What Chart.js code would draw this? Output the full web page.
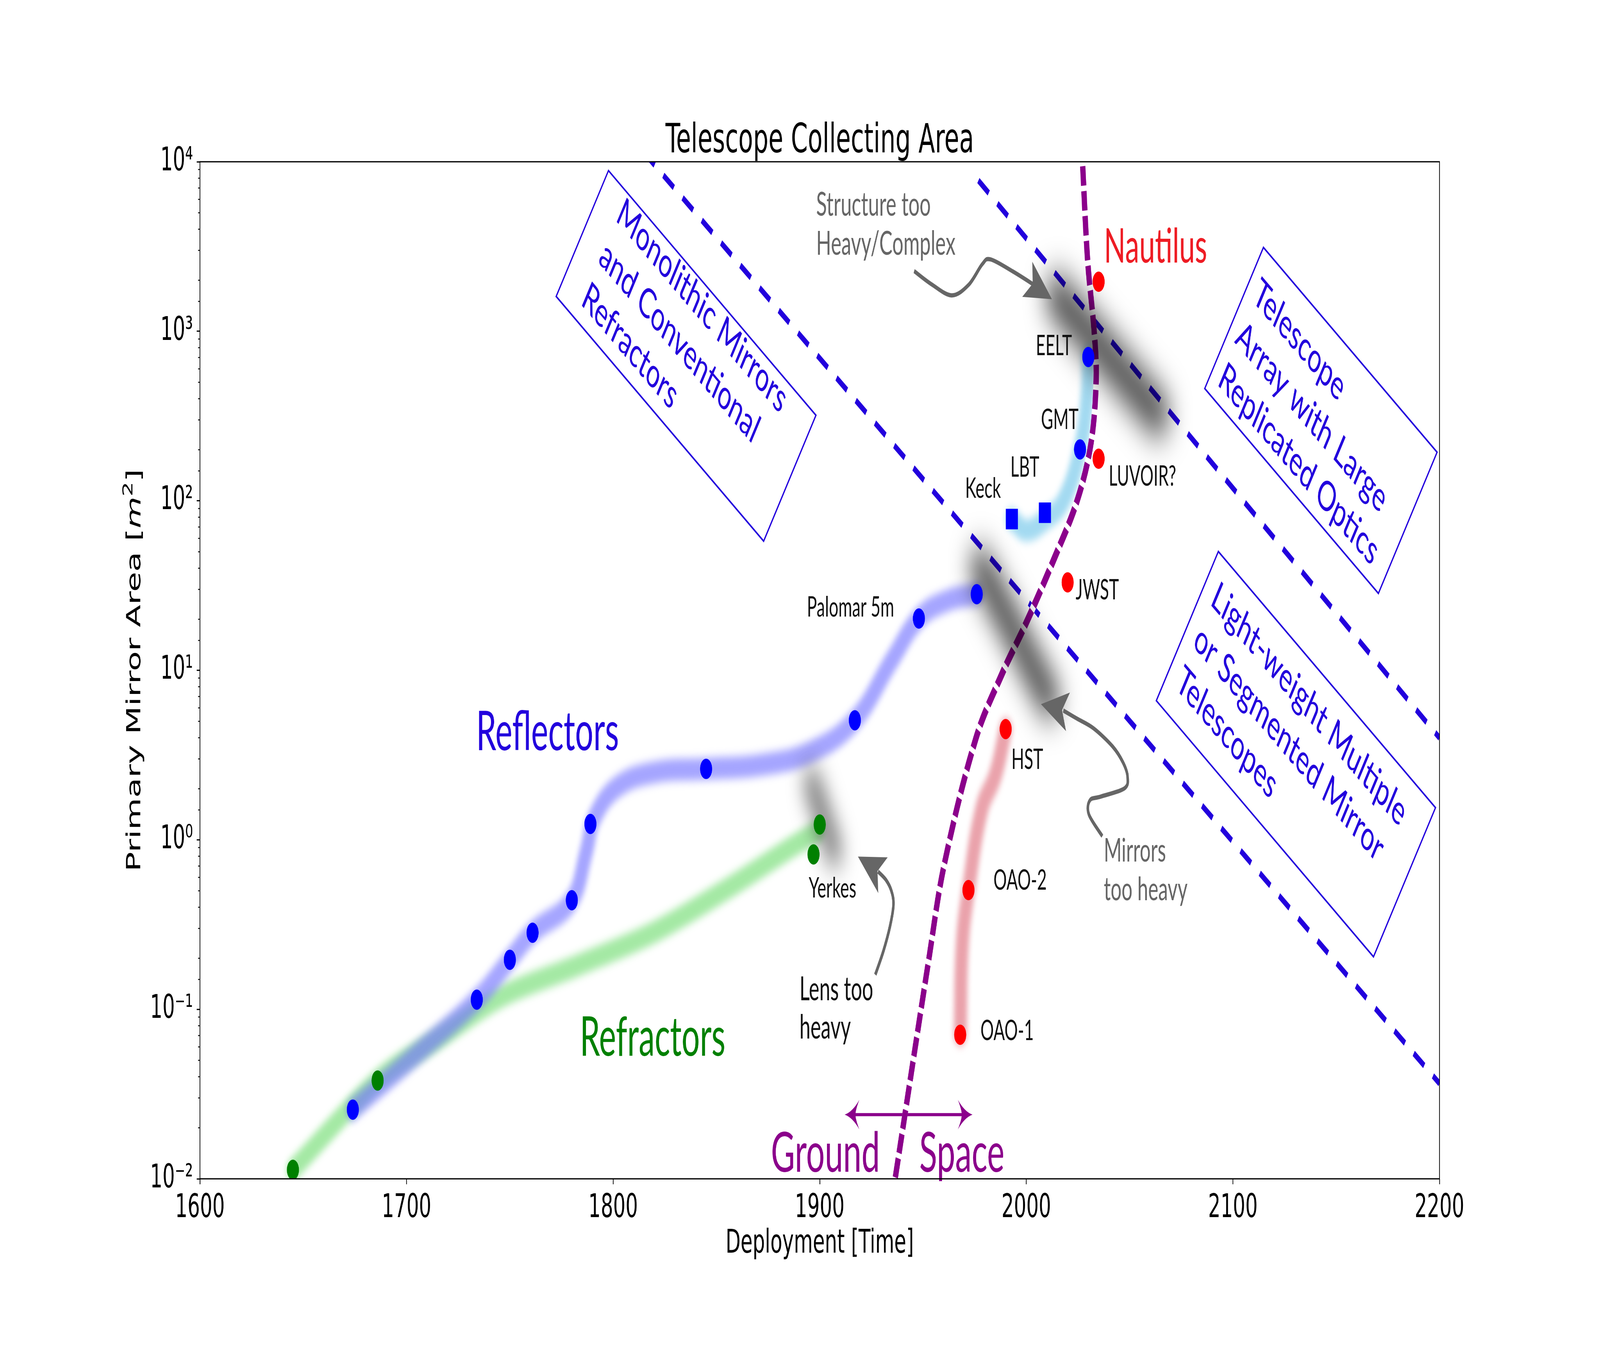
<!DOCTYPE html>
<html lang="en">
<head>
<meta charset="UTF-8">
<title>Telescope Collecting Area</title>
<script src="https://cdn.jsdelivr.net/npm/chart.js@4"></script>
<style>
  html, body { margin: 0; padding: 0; background: #fff; overflow: hidden; }
</style>
</head>
<body>
<canvas id="chart" width="6898" height="3450" style="width:100vw;height:100vh;display:block"></canvas>
<script>
// ---- data (year, primary mirror area in m^2) ----
const xTicks = [1600, 1700, 1800, 1900, 2000, 2100, 2200];

// reflectors (blue dots)
const reflYears = [1674, 1734, 1750, 1761, 1780, 1789, 1845, 1917, 1948, 1976];
const reflArea  = [0.0256, 0.114, 0.196, 0.283, 0.44, 1.24, 2.62, 5.07, 20.2, 28.1];
// refractors (green dots)
const refrYears = [1645, 1686, 1897, 1900];
const refrArea  = [0.0113, 0.038, 0.82, 1.23];
// segmented ground telescopes (squares): Keck, LBT
const segYears = [1993, 2009];
const segArea  = [78, 85];
// extremely large ground telescopes (blue dots): GMT, EELT
const eltYears = [2026, 2030];
const eltArea  = [201, 705];
// space telescopes (red): OAO-1, OAO-2, HST, JWST, LUVOIR?, Nautilus
const spaceYears = [1968, 1972, 1990, 2020, 2035, 2035];
const spaceArea  = [0.0708, 0.505, 4.5, 33, 177, 1960];

// trend bands (glows)
const reflGlowYears = [1674, 1705, 1734, 1750, 1761, 1780, 1787, 1791, 1802, 1820, 1845, 1872, 1895, 1917, 1935, 1948, 1962, 1976];
const reflGlowArea  = [0.0256, 0.0546, 0.114, 0.196, 0.283, 0.44, 0.85, 1.35, 2.05, 2.5, 2.62, 2.77, 3.27, 5.07, 11.5, 20.2, 25.8, 28.1];
const refrGlowYears = [1645, 1686, 1716, 1746, 1783, 1820, 1858, 1886, 1899];
const refrGlowArea  = [0.0113, 0.038, 0.068, 0.119, 0.182, 0.286, 0.54, 0.9, 1.12];
const segGlowYears = [1993, 2000, 2009, 2018, 2026, 2029.5, 2030];
const segGlowArea  = [78, 67, 77, 100, 201, 420, 705];
const spaceGlowYears = [1968, 1969, 1972, 1978.5, 1985, 1990];
const spaceGlowArea  = [0.0708, 0.24, 0.505, 1.53, 2.4, 4.5];

// ground / space boundary (purple dashed)
const boundYears = [1936.6, 1952.8, 1960.4, 1975.7, 1988.2, 2000, 2013.3, 2024.7, 2031.3, 2033.8, 2033.0, 2029.7, 2027.2];
const boundArea  = [0.0102, 0.197, 0.727, 4.0, 9.5, 19.1, 45, 101, 218, 513, 944, 2600, 9950];

// technology limits (blue dashed)
const monoLineYears = [1815, 2200];
const monoLineArea  = [11300, 0.0365];
const arrayLineYears = [1976.8, 2200];
const arrayLineArea  = [7750, 3.99];

// grey "limit reached" smudges
const lensLimitYears = [1896, 1907];
const lensLimitArea  = [2.2, 0.85];
const mirrorLimitYears = [1978, 2011];
const mirrorLimitArea  = [40, 6.8];
const structLimitYears = [2015.2, 2063.5];
const structLimitArea  = [1596, 325];

// point labels
const labelNames = ['Palomar 5m', 'Yerkes', 'OAO-1', 'OAO-2', 'HST', 'JWST', 'LUVOIR?', 'Keck', 'LBT', 'GMT', 'EELT'];
const labelYears = [1893.8, 1894.7, 1977.8, 1984.1, 1992.8, 2023.9, 2039.9, 1970.4, 1992.3, 2007.1, 2004.6];
const labelArea  = [20.7, 0.456, 0.0658, 0.509, 2.62, 26.2, 123, 104, 139, 265, 723];

// annotation arrows (shaft points, then tip)
const lensArrowYears = [1926.9, 1930.8, 1934.0, 1935.7, 1934.7, 1932.1, 1928.2, 1918.5];
const lensArrowArea  = [0.160, 0.220, 0.308, 0.414, 0.499, 0.579, 0.650, 0.796];
const mirrorArrowYears = [2036.8, 2030.3, 2030.8, 2036.1, 2047.5, 2049.0, 2046.8, 2041.8, 2032.6, 2024.6, 2017.9, 2007.1];
const mirrorArrowArea  = [1.05, 1.41, 1.71, 1.80, 2.01, 2.36, 2.86, 3.55, 4.54, 5.18, 5.79, 6.31];
const structArrowYears = [1945.7, 1954.2, 1963.9, 1972.1, 1978.7, 1982.7, 1993.5, 2004.0, 2012.4];
const structArrowArea  = [2265, 1890, 1629, 1880, 2490, 2655, 2253, 1870, 1545];
const groundSpaceYears = [1912.1, 1973.95];
const groundSpaceArea  = [0.0239, 0.0239];

// regime boxes
const boxLines = [
  ['Monolithic Mirrors', 'and Conventional', 'Refractors'],
  ['Telescope', 'Array with Large', 'Replicated Optics'],
  ['Light-weight Multiple', 'or Segmented Mirror', 'Telescopes']
];
const boxYears = [1835.3, 2142.6, 2130.5];
const boxArea  = [716, 298, 3.2];

// ---- styling ----
const AXIS_FONT = '"DejaVu Sans", sans-serif';
const ANN_FONT = 'Lato, "Open Sans", sans-serif';
const BLUE_INK = '#2200dd';
const PURPLE = '#8b008b';
const GREY = '#666666';
const boxSize  = [[1092, 393], [914, 441], [1143, 466]];
const boxInset = [[95, 87], [35, 140], [45, 131]];

function pts(xs, ys) { return xs.map((x, i) => ({ x: x, y: ys[i] })); }
function isPow10(v) { const l = Math.log10(v); return Math.abs(l - Math.round(l)) < 1e-6; }
function sup(n) {
  const m = { '-': '\u207B', '0': '\u2070', '1': '\u00B9', '2': '\u00B2', '3': '\u00B3', '4': '\u2074', '5': '\u2075', '6': '\u2076', '7': '\u2077', '8': '\u2078', '9': '\u2079' };
  return String(n).split('').map(c => m[c]).join('');
}

function band(xs, ys, color, tension) {
  return { data: pts(xs, ys), showLine: true, borderColor: color, borderWidth: 56, pointRadius: 0,
           tension: tension, borderCapStyle: 'round', borderJoinStyle: 'round', blur: 11, order: 10 };
}
function smudge(xs, ys, width, blur, alpha) {
  return { data: pts(xs, ys), showLine: true, borderColor: 'rgba(0,0,0,' + alpha + ')', borderWidth: width,
           pointRadius: 0, borderCapStyle: 'round', blur: blur, order: 6 };
}
function dashed(xs, ys) {
  return { data: pts(xs, ys), showLine: true, borderColor: BLUE_INK, borderWidth: 16, borderDash: [55, 46],
           pointRadius: 0, order: 9 };
}
function dots(xs, ys, color, style) {
  return { data: pts(xs, ys), showLine: false, pointStyle: style, pointRadius: style === 'rect' ? 37 : 26,
           backgroundColor: color, borderColor: color, pointBorderWidth: 0, order: 1 };
}

const datasets = [
  band(reflGlowYears, reflGlowArea, 'rgba(110,110,255,0.62)', 0.4),
  band(refrGlowYears, refrGlowArea, 'rgba(90,215,90,0.55)', 0.3),
  band(segGlowYears, segGlowArea, 'rgba(120,200,235,0.68)', 0.4),
  band(spaceGlowYears, spaceGlowArea, 'rgba(220,100,115,0.6)', 0.4),
  dashed(monoLineYears, monoLineArea),
  dashed(arrayLineYears, arrayLineArea),
  { data: pts(boundYears, boundArea), showLine: true, borderColor: '#ffffff', borderWidth: 23, pointRadius: 0, tension: 0.35, order: 8 },
  { data: pts(boundYears, boundArea), showLine: true, borderColor: PURPLE, borderWidth: 23, borderDash: [50, 14], pointRadius: 0, tension: 0.35, order: 7 },
  smudge(lensLimitYears, lensLimitArea, 72, 38, 0.55),
  smudge(mirrorLimitYears, mirrorLimitArea, 100, 44, 0.7),
  smudge(structLimitYears, structLimitArea, 110, 46, 0.72),
  dots(reflYears, reflArea, '#0000ff', 'circle'),
  dots(refrYears, refrArea, '#008000', 'circle'),
  dots(segYears, segArea, '#0000ff', 'rect'),
  dots(eltYears, eltArea, '#0000ff', 'circle'),
  dots(spaceYears, spaceArea, '#ff0000', 'circle')
];

function smoothPath(ctx, p) {
  ctx.moveTo(p[0][0], p[0][1]);
  for (let i = 0; i < p.length - 1; i++) {
    const p0 = p[Math.max(i - 1, 0)], p1 = p[i], p2 = p[i + 1], p3 = p[Math.min(i + 2, p.length - 1)];
    ctx.bezierCurveTo(p1[0] + (p2[0] - p0[0]) / 6, p1[1] + (p2[1] - p0[1]) / 6,
                      p2[0] - (p3[0] - p1[0]) / 6, p2[1] - (p3[1] - p1[1]) / 6, p2[0], p2[1]);
  }
}

function curvedArrow(chart, xs, ys) {
  const ctx = chart.ctx, sx = chart.scales.x, sy = chart.scales.y;
  const p = xs.map((x, i) => [sx.getPixelForValue(x), sy.getPixelForValue(ys[i])]);
  const tip = p[p.length - 1], shaft = p.slice(0, -1), last = shaft[shaft.length - 1];
  ctx.save();
  ctx.strokeStyle = GREY; ctx.fillStyle = GREY; ctx.lineWidth = 11; ctx.lineCap = 'butt';
  ctx.beginPath(); smoothPath(ctx, shaft); ctx.stroke();
  const dx = tip[0] - last[0], dy = tip[1] - last[1], d = Math.hypot(dx, dy);
  const ux = dx / d, uy = dy / d, nx = -uy, ny = ux, len = 118, hw = 50, notch = 92;
  const bx = tip[0] - ux * len, by = tip[1] - uy * len;
  ctx.beginPath();
  ctx.moveTo(tip[0], tip[1]);
  ctx.lineTo(bx + nx * hw, by + ny * hw);
  ctx.lineTo(tip[0] - ux * notch, tip[1] - uy * notch);
  ctx.lineTo(bx - nx * hw, by - ny * hw);
  ctx.closePath(); ctx.fill();
  ctx.restore();
}

function fancyHead(ctx, tx, ty, dir, len, hw) {
  ctx.beginPath();
  ctx.moveTo(tx, ty);
  ctx.quadraticCurveTo(tx + dir * len * 0.55, ty - hw * 0.2, tx + dir * len, ty - hw);
  ctx.quadraticCurveTo(tx + dir * len * 0.7, ty - hw * 0.2, tx + dir * len * 0.75, ty);
  ctx.quadraticCurveTo(tx + dir * len * 0.7, ty + hw * 0.2, tx + dir * len, ty + hw);
  ctx.quadraticCurveTo(tx + dir * len * 0.55, ty + hw * 0.2, tx, ty);
  ctx.fill();
}

function textLines(ctx, lines, x, y, step) {
  lines.forEach((t, i) => ctx.fillText(t, x, y + i * step));
}

const decor = {
  id: 'decor',
  beforeDatasetDraw(chart, args) {
    const ds = chart.data.datasets[args.index];
    if (ds.blur) { chart.ctx.save(); chart.ctx.filter = 'blur(' + ds.blur + 'px)'; }
  },
  afterDatasetDraw(chart, args) {
    const ds = chart.data.datasets[args.index];
    if (ds.blur) chart.ctx.restore();
  },
  beforeDatasetsDraw(chart) {
    // Ground <-> Space arrow sits under the boundary line
    const ctx = chart.ctx, sx = chart.scales.x, sy = chart.scales.y;
    const x0 = sx.getPixelForValue(groundSpaceYears[0]), x1 = sx.getPixelForValue(groundSpaceYears[1]);
    const y = sy.getPixelForValue(groundSpaceArea[0]);
    ctx.save();
    ctx.strokeStyle = PURPLE; ctx.fillStyle = PURPLE; ctx.lineWidth = 8;
    ctx.beginPath(); ctx.moveTo(x0 + 40, y); ctx.lineTo(x1 - 40, y); ctx.stroke();
    fancyHead(ctx, x0, y, 1, 63, 38);
    fancyHead(ctx, x1, y, -1, 63, 38);
    ctx.restore();
  },
  afterDatasetsDraw(chart) {
    const ctx = chart.ctx, sx = chart.scales.x, sy = chart.scales.y;
    const P = (x, y) => [sx.getPixelForValue(x), sy.getPixelForValue(y)];
    ctx.save();
    ctx.textBaseline = 'alphabetic'; ctx.textAlign = 'left';

    // point labels
    ctx.fillStyle = '#111'; ctx.font = '72px ' + ANN_FONT;
    labelNames.forEach((t, i) => { const p = P(labelYears[i], labelArea[i]); ctx.fillText(t, p[0], p[1]); });

    // big category labels
    let p;
    ctx.font = '139px ' + ANN_FONT;
    ctx.fillStyle = BLUE_INK; p = P(1733.7, 3.37); ctx.fillText('Reflectors', p[0], p[1]);
    ctx.fillStyle = '#008000'; p = P(1783.9, 0.0532); ctx.fillText('Refractors', p[0], p[1]);
    ctx.font = '122px ' + ANN_FONT;
    ctx.fillStyle = '#ee1c24'; p = P(2037.6, 2545); ctx.fillText('Nautilus', p[0], p[1]);
    ctx.font = '142px ' + ANN_FONT; ctx.fillStyle = PURPLE;
    p = P(1876.4, 0.011); ctx.fillText('Ground', p[0], p[1]);
    p = P(1948.2, 0.011); ctx.fillText('Space', p[0], p[1]);

    // comments
    ctx.font = '85px ' + ANN_FONT;
    ctx.fillStyle = '#111'; p = P(1890.2, 0.113); textLines(ctx, ['Lens too', 'heavy'], p[0], p[1], 98);
    ctx.font = '83px ' + ANN_FONT;
    ctx.fillStyle = GREY; p = P(2037.5, 0.746); textLines(ctx, ['Mirrors', 'too heavy'], p[0], p[1], 99);
    ctx.font = '85px ' + ANN_FONT;
    p = P(1898.3, 4808); textLines(ctx, ['Structure too', 'Heavy/Complex'], p[0], p[1], 100);

    curvedArrow(chart, lensArrowYears, lensArrowArea);
    curvedArrow(chart, mirrorArrowYears, mirrorArrowArea);
    curvedArrow(chart, structArrowYears, structArrowArea);

    // rotated regime boxes
    ctx.strokeStyle = BLUE_INK; ctx.fillStyle = BLUE_INK; ctx.lineWidth = 5;
    ctx.font = '106px ' + ANN_FONT;
    boxLines.forEach((lines, i) => {
      const c = P(boxYears[i], boxArea[i]), w = boxSize[i][0], h = boxSize[i][1];
      ctx.save();
      ctx.translate(c[0], c[1]); ctx.rotate(35 * Math.PI / 180);
      ctx.strokeRect(-w / 2, -h / 2, w, h);
      textLines(ctx, lines, -w / 2 + boxInset[i][0], -h / 2 + boxInset[i][1], 131);
      ctx.restore();
    });
    ctx.restore();
  },
  afterDraw(chart) {
    const ctx = chart.ctx, a = chart.chartArea, sy = chart.scales.y;
    ctx.save();
    // minor log ticks
    ctx.strokeStyle = '#000'; ctx.lineWidth = 2.4;
    sy.ticks.forEach(t => {
      if (isPow10(t.value)) return;
      const y = sy.getPixelForValue(t.value);
      ctx.beginPath(); ctx.moveTo(a.left - 8, y); ctx.lineTo(a.left, y); ctx.stroke();
    });
    // frame
    ctx.lineWidth = 3.2;
    ctx.strokeRect(a.left, a.top, a.right - a.left, a.bottom - a.top);
    // titles
    const cx = (a.left + a.right) / 2;
    ctx.fillStyle = '#000'; ctx.textBaseline = 'alphabetic'; ctx.textAlign = 'center';
    ctx.font = '104px ' + AXIS_FONT;
    ctx.fillText('Telescope Collecting Area', cx, a.top - 24);
    ctx.font = '84px ' + AXIS_FONT;
    ctx.fillText('Deployment [Time]', cx, a.bottom + 189);
    // y label with math-style m^2
    const parts = [
      { t: 'Primary Mirror Area [', f: '84px ' + AXIS_FONT, dy: 0 },
      { t: 'm', f: 'italic 84px ' + AXIS_FONT, dy: 0 },
      { t: '2', f: '59px ' + AXIS_FONT, dy: -34 },
      { t: ']', f: '84px ' + AXIS_FONT, dy: 0 }
    ];
    let total = 0;
    parts.forEach(q => { ctx.font = q.f; q.w = ctx.measureText(q.t).width; total += q.w; });
    ctx.translate(605, (a.top + a.bottom) / 2); ctx.rotate(-Math.PI / 2);
    ctx.textAlign = 'left';
    let x = -total / 2;
    parts.forEach(q => { ctx.font = q.f; ctx.fillText(q.t, x, q.dy); x += q.w; });
    ctx.restore();
  }
};

function build() {
  new Chart(document.getElementById('chart'), {
    type: 'scatter',
    data: { datasets: datasets },
    options: {
      responsive: false,
      devicePixelRatio: 1,
      animation: false,
      events: [],
      layout: { padding: { top: 414, right: 692, left: 0, bottom: 0 } },
      elements: { line: { capBezierPoints: false } },
      plugins: { legend: { display: false }, tooltip: { enabled: false }, title: { display: false } },
      scales: {
        x: {
          type: 'linear', position: 'bottom', min: xTicks[0], max: xTicks[xTicks.length - 1],
          afterFit: s => { s.height = 433; },
          afterBuildTicks: s => { s.ticks = xTicks.map(v => ({ value: v })); },
          ticks: { font: { family: AXIS_FONT, size: 84 }, color: '#000', padding: 12, maxRotation: 0, autoSkip: false,
                   callback: v => String(v) },
          grid: { drawOnChartArea: false, drawTicks: true, tickLength: 14, tickWidth: 3.2, tickColor: '#000' },
          border: { display: false }
        },
        y: {
          type: 'logarithmic', position: 'left', min: 0.01, max: 10000,
          afterFit: s => { s.width = 862; },
          ticks: { font: { family: AXIS_FONT, size: 84 }, color: '#000', padding: 16, autoSkip: false,
                   callback: v => isPow10(v) ? '10' + sup(Math.round(Math.log10(v))) : '' },
          grid: { drawOnChartArea: false, drawTicks: true, tickLength: 14, tickWidth: 3.2,
                  tickColor: c => (c.tick && isPow10(c.tick.value)) ? '#000' : 'rgba(0,0,0,0)' },
          border: { display: false }
        }
      }
    },
    plugins: [decor]
  });
}

Promise.all([
  document.fonts.load('84px "DejaVu Sans"'),
  document.fonts.load('italic 84px "DejaVu Sans"'),
  document.fonts.load('80px Lato')
]).then(build, build);
</script>
</body>
</html>
